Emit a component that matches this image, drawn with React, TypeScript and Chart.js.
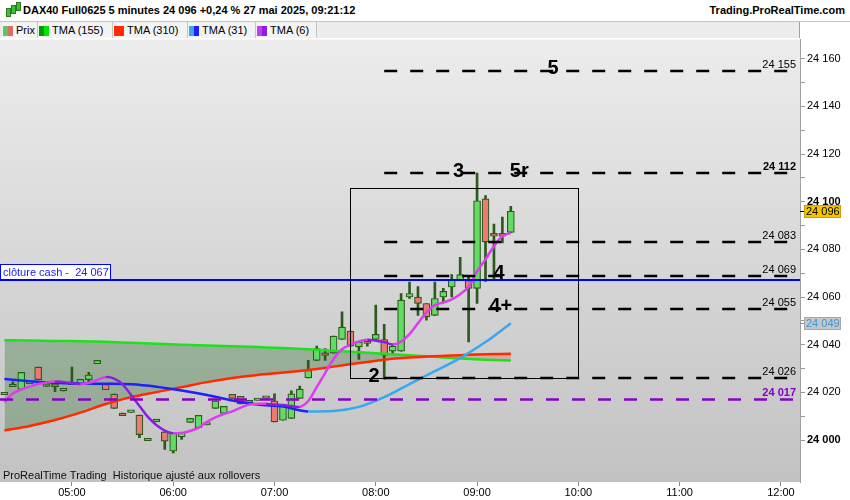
import React, { useEffect, useRef } from 'react';
import Chart from 'chart.js/auto';

// 5-minute candles, DAX40 Full0625, 27 May 2025
const candleTimes = [
  '04:20', '04:25', '04:30', '04:35', '04:40', '04:45', '04:50', '04:55',
  '05:00', '05:05', '05:10', '05:15', '05:20', '05:25', '05:30', '05:35', '05:40', '05:45', '05:50', '05:55',
  '06:00', '06:05', '06:10', '06:15', '06:20', '06:25', '06:30', '06:35', '06:40', '06:45', '06:50', '06:55',
  '07:00', '07:05', '07:10', '07:15', '07:20', '07:25', '07:30', '07:35', '07:40', '07:45', '07:50', '07:55',
  '08:00', '08:05', '08:10', '08:15', '08:20', '08:25', '08:30', '08:35', '08:40', '08:45', '08:50', '08:55',
  '09:00', '09:05', '09:10', '09:15', '09:20',
];

const openPrices = [
  24019, 24022.4, 24021.3, 24023.6, 24030.6, 24022.5, 24023.6, 24020.6,
  24023.2, 24023.4, 24025.3, 24032.0, 24023.4, 24019.3, 24011.3, 24011.6, 24010.5, 23999.7, 24007.7, 24003.4,
  23995.4, 24001.3, 24007.4, 24005.2, 24006.3, 24013.3, 24011.2, 24019.2, 24018.3, 24016.4, 24016.6, 24017.5,
  24016.4, 24008.3, 24009.1, 24017.5, 24026.1, 24033.4, 24036.3, 24036.5, 24042.2, 24045.7, 24039.1, 24041.4,
  24042.2, 24042.2, 24037.3, 24037.3, 24060.0, 24060.0, 24057.3, 24052.3, 24060.0, 24064.2, 24067.0, 24067.0,
  24063.6, 24101.2, 24086.7, 24086.7, 24087.1,
];
const highPrices = [
  24019, 24024.4, 24028.4, 24023.6, 24030.6, 24023.6, 24023.6, 24020.6,
  24030.6, 24025.5, 24028.4, 24033.4, 24023.4, 24019.3, 24011.3, 24011.6, 24010.5, 23999.7, 24007.7, 24003.4,
  24003.0, 24003.1, 24009.1, 24010.4, 24006.3, 24016.4, 24014.1, 24019.2, 24018.3, 24016.4, 24016.6, 24017.5,
  24019.4, 24014.3, 24020.6, 24022.6, 24033.4, 24039.4, 24038.4, 24043.6, 24053.8, 24045.7, 24041.2, 24041.4,
  24056.6, 24048.5, 24040.4, 24061.5, 24066.3, 24064.4, 24057.3, 24066.3, 24063.6, 24069.4, 24076.7, 24069.0,
  24112.0, 24102.6, 24090.6, 24093.5, 24098.0,
];
const lowPrices = [
  24019, 24022.4, 24021.3, 24023.6, 24025.3, 24022.5, 24020.3, 24020.6,
  24023.2, 24023.4, 24024.0, 24032.0, 24021.1, 24013.3, 24010.2, 24011.6, 24001.0, 23999.7, 24007.7, 23996.1,
  23994.6, 24000.3, 24007.4, 24005.2, 24006.3, 24013.3, 24011.2, 24017.5, 24015.2, 24015.6, 24016.6, 24017.5,
  24007.6, 24008.3, 24009.1, 24017.5, 24026.1, 24033.4, 24033.4, 24036.5, 24042.2, 24039.4, 24033.8, 24039.4,
  24042.2, 24025.5, 24036.2, 24037.3, 24059.4, 24052.3, 24050.3, 24052.3, 24058.0, 24060.0, 24067.0, 24041.2,
  24057.3, 24066.6, 24067.3, 24082.7, 24087.1,
];
const closePrices = [
  24019, 24023.5, 24028.4, 24023.6, 24025.3, 24023.6, 24022.4, 24020.6,
  24024.0, 24025.5, 24027.3, 24033.4, 24021.1, 24013.3, 24010.2, 24011.6, 24002.3, 23999.7, 24007.7, 23999.5,
  24003.0, 24003.1, 24009.1, 24010.4, 24006.3, 24016.4, 24014.1, 24017.5, 24015.2, 24015.6, 24016.6, 24017.5,
  24007.6, 24014.3, 24019.4, 24021.4, 24029.2, 24038.4, 24035.5, 24043.6, 24047.4, 24039.4, 24041.2, 24040.5,
  24044.3, 24035.6, 24039.4, 24058.7, 24061.5, 24057.3, 24051.7, 24059.4, 24062.4, 24067.3, 24069.4, 24063.6,
  24100.4, 24083.1, 24085.5, 24085.5, 24096.0,
];

// slow averages, read every 15 minutes
const maTimes = [
  '04:20', '04:35', '04:50', '05:05', '05:20', '05:35', '05:50', '06:05', '06:20', '06:35', '06:50',
  '07:05', '07:20', '07:35', '07:50', '08:05', '08:20', '08:35', '08:50', '09:05', '09:20',
];
const tma155 = [
  24041.9, 24041.8, 24041.6, 24041.5, 24041.2, 24040.8, 24040.4, 24040.0, 24039.7, 24039.4, 24039.0,
  24038.6, 24038.1, 24037.5, 24036.8, 24036.2, 24035.6, 24034.9, 24034.2, 24033.7, 24033.4,
];
const tma310 = [
  24004.0, 24005.9, 24008.4, 24011.5, 24015.1, 24018.0, 24020.1, 24022.2, 24024.3, 24026.0, 24027.3,
  24028.3, 24029.4, 24030.8, 24032.3, 24033.7, 24034.6, 24035.2, 24035.6, 24036.0, 24036.2,
];
const tma31 = [
  24025.6, 24024.7, 24024.0, 24023.7, 24023.6, 24023.4, 24022.4, 24020.8, 24018.9, 24016.6, 24014.9,
  24014.1, 24012.0, 24012.2, 24013.9, 24018.0, 24023.5, 24028.9, 24034.4, 24041.1, 24049.0,
];
// fast average, one value per candle
const tma6 = [
  24015.9, 24019.5, 24021.2, 24022.4, 24023.5, 24024.1, 24024.6, 24024.3,
  24023.9, 24023.5, 24024.0, 24025.2, 24026.4, 24025.8, 24023.4, 24018.9, 24014.3, 24009.7, 24006.3, 24004.0,
  24002.8, 24003.0, 24003.8, 24005.1, 24007.6, 24009.5, 24010.9, 24012.0, 24013.6, 24014.9, 24015.2, 24015.2,
  24014.9, 24014.7, 24014.3, 24013.9, 24016.4, 24022.2, 24028.1, 24034.0, 24038.1, 24040.0, 24041.4, 24042.1,
  24041.7, 24041.1, 24040.1, 24041.3, 24044.4, 24049.0, 24053.6, 24056.6, 24057.7, 24059.0, 24061.2, 24064.3,
  24070.8, 24075.8, 24081.3, 24085.5, 24086.9,
];

// drawn levels
const levelPrices = [24155, 24112, 24083, 24069, 24055, 24026];
const levelBold = [false, true, false, false, false, false];
const levelFrom = '08:05';
const levelTo = '12:04';
const purpleLevel = 24017;
const cashClose = 24067;
const boxFrom = '07:45';
const boxTo = '10:00';
const boxLow = 24026;
const boxHigh = 24105.6;

const waveTexts = ['5', '3', '5r', '4', '4+', '2'];
const waveTimes = ['09:45', '08:49', '09:25', '09:13', '09:14', '07:59'];
const waveLevels = [24155, 24112, 24112, 24069, 24055, 24026];

const xTickLabels = ['05:00', '06:00', '07:00', '08:00', '09:00', '10:00', '11:00', '12:00'];
const yTickValues = [
  24000, 24010, 24020, 24030, 24040, 24050, 24060, 24070, 24080,
  24090, 24100, 24110, 24120, 24130, 24140, 24150, 24160,
];

const FONT = '"Liberation Sans", Arial, sans-serif';
const WICK = '#2b5a1c';
const UP = '#63dc63';
const DOWN = '#ec7a72';

const toMin = (t: string) => {
  const [h, m] = t.split(':').map(Number);
  return h * 60 + m;
};
const fmtPrice = (v: number) => {
  const s = String(Math.round(v));
  return s.slice(0, -3) + ' ' + s.slice(-3);
};
const fmtTime = (m: number) =>
  String(Math.floor(m / 60)).padStart(2, '0') + ':' + String(Math.round(m % 60)).padStart(2, '0');

const overlay = {
  id: 'overlay',
  beforeDraw(chart: any) {
    const { ctx, chartArea: a } = chart;
    const g = ctx.createLinearGradient(0, a.top, 0, a.bottom);
    g.addColorStop(0, '#ececec');
    g.addColorStop(1, '#c2c2c2');
    ctx.save();
    ctx.fillStyle = g;
    ctx.fillRect(a.left, a.top, a.right - a.left, a.bottom - a.top);
    ctx.restore();
  },
  afterDatasetsDraw(chart: any) {
    const { ctx, chartArea: a, scales } = chart;
    const x = scales.x;
    const y = scales.y;
    ctx.save();

    // rectangle
    ctx.strokeStyle = '#000';
    ctx.lineWidth = 1;
    const bx0 = Math.round(x.getPixelForValue(toMin(boxFrom))) + 0.5;
    const bx1 = Math.round(x.getPixelForValue(toMin(boxTo))) + 0.5;
    const by0 = Math.round(y.getPixelForValue(boxHigh)) + 0.5;
    const by1 = Math.round(y.getPixelForValue(boxLow)) + 0.5;
    ctx.strokeRect(bx0, by0, bx1 - bx0, by1 - by0);

    // purple dashed level across the chart
    ctx.setLineDash([13, 13]);
    ctx.lineWidth = 2.5;
    ctx.strokeStyle = '#8a00c8';
    const py = y.getPixelForValue(purpleLevel);
    ctx.beginPath();
    ctx.moveTo(a.left, py);
    ctx.lineTo(a.right, py);
    ctx.stroke();

    // black dashed levels
    ctx.strokeStyle = '#000';
    const lx0 = x.getPixelForValue(toMin(levelFrom));
    const lx1 = x.getPixelForValue(toMin(levelTo));
    levelPrices.forEach((p) => {
      const ly = Math.round(y.getPixelForValue(p));
      ctx.beginPath();
      ctx.moveTo(lx0, ly);
      ctx.lineTo(lx1, ly);
      ctx.stroke();
    });

    // cash close
    ctx.setLineDash([]);
    ctx.strokeStyle = '#0000ff';
    ctx.lineWidth = 2;
    const cy = Math.round(y.getPixelForValue(cashClose));
    ctx.beginPath();
    ctx.moveTo(a.left, cy);
    ctx.lineTo(a.right, cy);
    ctx.stroke();
    ctx.fillStyle = '#fff';
    ctx.fillRect(a.left, cy - 16, 111, 15);
    ctx.lineWidth = 1;
    ctx.strokeRect(a.left + 0.5, cy - 15.5, 110, 15);
    ctx.fillStyle = '#1a1aff';
    ctx.font = '11px ' + FONT;
    ctx.textAlign = 'left';
    ctx.textBaseline = 'alphabetic';
    ctx.fillText('clôture cash -  ' + fmtPrice(cashClose), a.left + 3, cy - 4);

    // level labels near the right edge
    ctx.textAlign = 'right';
    ctx.textBaseline = 'bottom';
    levelPrices.forEach((p, i) => {
      ctx.font = (levelBold[i] ? 'bold ' : '') + '11px ' + FONT;
      ctx.fillStyle = '#000';
      ctx.fillText(fmtPrice(p), a.right - 4, Math.round(y.getPixelForValue(p)) - 1);
    });
    ctx.font = 'bold 11px ' + FONT;
    ctx.fillStyle = '#8000c0';
    ctx.fillText(fmtPrice(purpleLevel), a.right - 4, py - 1);

    // wave count
    ctx.font = 'bold 20px ' + FONT;
    ctx.fillStyle = '#000';
    ctx.textAlign = 'center';
    ctx.textBaseline = 'middle';
    waveTexts.forEach((t, i) => {
      ctx.fillText(t, x.getPixelForValue(toMin(waveTimes[i])), y.getPixelForValue(waveLevels[i]) - 2);
    });

    // footer
    ctx.font = '11px ' + FONT;
    ctx.textAlign = 'left';
    ctx.textBaseline = 'alphabetic';
    ctx.fillStyle = '#111';
    ctx.fillText('ProRealTime Trading  Historique ajusté aux rollovers', a.left + 3, a.bottom - 3);
    ctx.restore();
  },
  afterDraw(chart: any) {
    const { ctx, chartArea: a, scales } = chart;
    const y = scales.y;
    ctx.save();
    ctx.font = '11px ' + FONT;
    ctx.textAlign = 'left';
    ctx.textBaseline = 'middle';
    const badge = (v: number, bg: string, border: string, fg: string, tick: string) => {
      const by = Math.round(y.getPixelForValue(v));
      ctx.strokeStyle = tick;
      ctx.lineWidth = 1;
      ctx.beginPath();
      ctx.moveTo(a.right, by + 0.5);
      ctx.lineTo(a.right + 4, by + 0.5);
      ctx.stroke();
      ctx.fillStyle = bg;
      ctx.fillRect(a.right + 4, by - 6, 37, 13);
      ctx.strokeStyle = border;
      ctx.strokeRect(a.right + 4.5, by - 5.5, 36, 12);
      ctx.fillStyle = fg;
      ctx.fillText(fmtPrice(v), a.right + 6, by + 1);
    };
    badge(closePrices[closePrices.length - 1], '#f5c400', '#c9a000', '#000', '#000');
    badge(tma31[tma31.length - 1], '#c6c6c6', '#a8a8a8', '#3a9ad9', '#3aa8ee');
    ctx.restore();
  },
};

const legendItems = [
  { label: 'Prix', left: 2, width: 36, c1: '#5cc85c', c2: '#e06a66' },
  { label: 'TMA (155)', left: 38, width: 75, c1: '#009a00', c2: '#00e600' },
  { label: 'TMA (310)', left: 113, width: 75, c1: '#ff2a00', c2: '#ff2a00' },
  { label: 'TMA (31)', left: 188, width: 68, c1: '#3aa8ee', c2: '#1f1fff' },
  { label: 'TMA (6)', left: 256, width: 61, c1: '#c33cf0', c2: '#8c1ee0' },
];

const App: React.FC = () => {
  const canvasRef = useRef<HTMLCanvasElement>(null);
  const chartRef = useRef<Chart | null>(null);

  useEffect(() => {
    if (!canvasRef.current) return;
    if (chartRef.current) chartRef.current.destroy();

    Chart.defaults.font.family = FONT;
    Chart.defaults.font.size = 11;
    Chart.defaults.color = '#000';

    const bodyColors = candleTimes.map((_, i) => (closePrices[i] >= openPrices[i] ? UP : DOWN));
    const slope = (rise: string, fall: string) => (c: any) =>
      c.p1.parsed.y >= c.p0.parsed.y ? rise : fall;

    chartRef.current = new Chart(canvasRef.current, {
      type: 'bar',
      data: {
        datasets: [
          {
            type: 'bar',
            label: 'wick',
            data: candleTimes.map((t, i) => ({ x: toMin(t), y: [lowPrices[i], highPrices[i]] })) as any,
            backgroundColor: WICK,
            borderWidth: 0,
            barThickness: 2,
            grouped: false,
            order: 20,
          },
          {
            type: 'bar',
            label: 'Prix',
            data: candleTimes.map((t, i) => ({ x: toMin(t), y: [openPrices[i], closePrices[i]] })) as any,
            backgroundColor: bodyColors,
            borderColor: WICK,
            borderWidth: 1.2,
            borderSkipped: false,
            barThickness: 7,
            minBarLength: 2.5,
            grouped: false,
            order: 19,
          },
          {
            type: 'line',
            label: 'TMA (155)',
            data: maTimes.map((t, i) => ({ x: toMin(t), y: tma155[i] })),
            borderColor: '#1fe01f',
            borderWidth: 2.5,
            pointRadius: 0,
            cubicInterpolationMode: 'monotone',
            fill: { target: 3, above: 'rgba(40,110,40,0.32)', below: 'rgba(255,80,60,0.3)' },
            order: 4,
          },
          {
            type: 'line',
            label: 'TMA (310)',
            data: maTimes.map((t, i) => ({ x: toMin(t), y: tma310[i] })),
            borderColor: '#ff2a00',
            borderWidth: 2.5,
            pointRadius: 0,
            cubicInterpolationMode: 'monotone',
            fill: false,
            order: 3,
          },
          {
            type: 'line',
            label: 'TMA (31)',
            data: maTimes.map((t, i) => ({ x: toMin(t), y: tma31[i] })),
            borderColor: '#1f1fff',
            borderWidth: 2.5,
            pointRadius: 0,
            cubicInterpolationMode: 'monotone',
            segment: { borderColor: slope('#38a8ee', '#1f1fff') },
            fill: false,
            order: 2,
          },
          {
            type: 'line',
            label: 'TMA (6)',
            data: candleTimes.map((t, i) => ({ x: toMin(t), y: tma6[i] })),
            borderColor: '#dd3cf0',
            borderWidth: 2.5,
            pointRadius: 0,
            tension: 0.35,
            segment: { borderColor: slope('#dd3cf0', '#8c1ee0') },
            fill: false,
            order: 1,
          },
        ],
      },
      options: {
        animation: false,
        responsive: true,
        maintainAspectRatio: false,
        events: [],
        layout: { padding: 0 },
        plugins: {
          legend: { display: false },
          tooltip: { enabled: false },
          filler: { drawTime: 'beforeDatasetsDraw' },
        },
        scales: {
          x: {
            type: 'linear',
            min: 257.4,
            max: 731.3,
            offset: false,
            grid: { offset: false, drawOnChartArea: false, tickLength: 4, color: '#888' },
            border: { display: false },
            ticks: {
              padding: 0,
              color: '#000',
              maxRotation: 0,
              autoSkip: false,
              callback: (v: any) => fmtTime(Number(v)),
            },
            afterBuildTicks: (s: any) => {
              s.ticks = xTickLabels.map((l) => ({ value: toMin(l) }));
            },
            afterFit: (s: any) => {
              s.height = 18;
            },
          },
          y: {
            type: 'linear',
            position: 'right',
            min: 23982.4,
            max: 24168,
            grid: { drawOnChartArea: false, tickLength: 5, color: '#999' },
            border: { display: true, color: '#a0a0a0' },
            ticks: {
              padding: 2,
              color: '#000',
              autoSkip: false,
              callback: (v: any) => (Number(v) % 20 === 0 ? fmtPrice(Number(v)) : ''),
              font: (c: any) => ({
                size: 11,
                weight: c.tick && c.tick.value % 100 === 0 ? 'bold' : 'normal',
              }),
            },
            afterBuildTicks: (s: any) => {
              s.ticks = yTickValues.map((v) => ({ value: v }));
            },
            afterFit: (s: any) => {
              s.width = 50;
            },
          },
        },
      } as any,
      plugins: [overlay],
    });

    return () => {
      if (chartRef.current) {
        chartRef.current.destroy();
        chartRef.current = null;
      }
    };
  }, []);

  return (
    <div
      style={{
        position: 'fixed',
        left: 0,
        top: 0,
        width: 850,
        height: 500,
        background: '#fff',
        fontFamily: FONT,
        overflow: 'hidden',
      }}
    >
      {/* chart canvas; Chart.js keeps half a label of room above the plot, so it starts 7px higher */}
      <div style={{ position: 'absolute', left: 0, top: 31, width: 850, height: 469 }}>
        <canvas ref={canvasRef} />
      </div>

      {/* title bar */}
      <div
        style={{
          position: 'absolute',
          left: 0,
          top: 0,
          width: 850,
          height: 21,
          background: '#fff',
          borderBottom: '1px solid #c4c4c4',
          zIndex: 2,
        }}
      >
        <div style={{ position: 'absolute', left: 6, top: 8, width: 3, height: 7, background: '#3cbf3c', border: '1px solid #2b7a1c' }} />
        <div style={{ position: 'absolute', left: 11, top: 5, width: 3, height: 7, background: '#3cbf3c', border: '1px solid #2b7a1c' }} />
        <div style={{ position: 'absolute', left: 16, top: 2, width: 3, height: 7, background: '#3cbf3c', border: '1px solid #2b7a1c' }} />
        <span style={{ position: 'absolute', left: 23, top: 4, fontSize: 11, fontWeight: 'bold', color: '#000', whiteSpace: 'nowrap' }}>
          DAX40 Full0625 5 minutes 24 096 +0,24 % 27 mai 2025, 09:21:12
        </span>
        <span style={{ position: 'absolute', right: 5, top: 4, fontSize: 11, fontWeight: 'bold', color: '#000', whiteSpace: 'nowrap' }}>
          Trading.ProRealTime.com
        </span>
      </div>

      {/* indicator legend */}
      <div
        style={{
          position: 'absolute',
          left: 0,
          top: 22,
          width: 799,
          height: 16,
          background: '#ececec',
          borderRight: '1px solid #a0a0a0',
          zIndex: 2,
        }}
      >
        {legendItems.map((it) => (
          <div
            key={it.label}
            style={{
              position: 'absolute',
              left: it.left,
              top: 0,
              width: it.width - 1,
              height: 16,
              background: '#f3f3f3',
              borderRight: '1px solid #c4c4c4',
            }}
          >
            <div style={{ position: 'absolute', left: 1, top: 4, width: 5, height: 10, background: it.c1 }} />
            <div style={{ position: 'absolute', left: 6, top: 4, width: 5, height: 10, background: it.c2 }} />
            <span style={{ position: 'absolute', left: 14, top: 2, fontSize: 11, color: '#000', whiteSpace: 'nowrap' }}>
              {it.label}
            </span>
          </div>
        ))}
      </div>
      {/* white strip right of the legend, over the axis column */}
      <div style={{ position: 'absolute', left: 800, top: 22, width: 50, height: 16, background: '#fff', zIndex: 2 }} />
    </div>
  );
};

export default App;
